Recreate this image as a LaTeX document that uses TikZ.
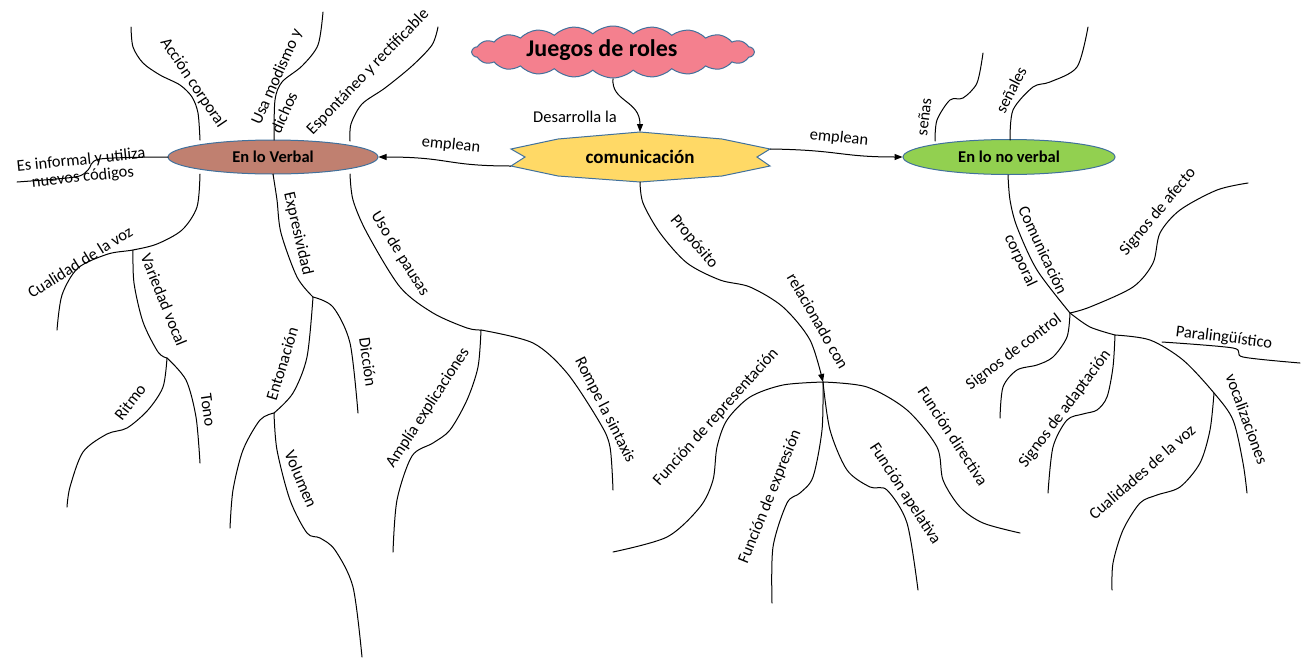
\documentclass[tikz,border=0pt]{standalone}
\usepackage{fontspec}
\setmainfont{Carlito}
\usetikzlibrary{arrows.meta,shapes.symbols,shapes.geometric}
\definecolor{verbalc}{RGB}{192,128,112}
\definecolor{noverbalc}{RGB}{146,208,80}
\definecolor{edgeblue}{RGB}{65,113,156}
\definecolor{cloudpink}{RGB}{244,128,142}
\definecolor{staryellow}{RGB}{255,217,102}
\begin{document}
\begin{tikzpicture}[x=1pt,y=-1pt,
  lbl/.style={font=\fontsize{16.5}{19}\selectfont, inner sep=0pt, align=center},
  br/.style={line width=1pt, line cap=round},
  arr/.style={line width=1pt, -{Triangle[length=8pt,width=6pt]}},
  ell/.style={ellipse, draw=edgeblue, line width=1pt, font=\fontsize{16.5}{19}\selectfont\bfseries, inner sep=0pt}
]
\useasboundingbox (0,0) rectangle (1301,659);

% ---------- central shapes ----------
\node[cloud, cloud puffs=22, cloud puff arc=85, aspect=5.5, draw=edgeblue, fill=cloudpink,
  line width=1pt, minimum width=282pt, minimum height=52pt, inner sep=0pt] (juegos) at (613,52) {};
\node[font=\fontsize{24}{28}\selectfont\bfseries, inner sep=0pt] (jtxt) at (602,50) {Juegos de roles};

\draw[draw=edgeblue, fill=staryellow, line width=1pt]
  (640,132) -- (722,139) -- (770,149) -- (757,157) -- (770,166) -- (722,176) -- (640,182)
  -- (558,176) -- (511,166) -- (525,157) -- (511,149) -- (558,139) -- cycle;
\node[font=\fontsize{19}{22}\selectfont\bfseries, inner sep=0pt] (com) at (640,157) {comunicación};
\coordinate (comT) at (640,132);
\coordinate (comB) at (640,182);
\coordinate (comL) at (511,166);
\coordinate (comR) at (770,149);

\node[ell, fill=verbalc, minimum width=210pt, minimum height=34pt] (verbal) at (273,157) {En lo Verbal};
\node[ell, fill=noverbalc, minimum width=212pt, minimum height=35pt] (noverbal) at (1009,157) {En lo no verbal};

% ---------- arrows ----------
\draw[arr] (juegos.south) .. controls (611,102) and (640,100) .. (comT);
\node[lbl] (ldes) at (575,117) {Desarrolla la};
\draw[arr] (comL) .. controls (445,166) and (450,157) .. (verbal.east);
\node[lbl, rotate=-6] (lemp1) at (451,145) {emplean};
\draw[arr] (comR) .. controls (840,150) and (840,157) .. (noverbal.west);
\node[lbl, rotate=-6] (lemp2) at (839,138) {emplean};

% ---------- branch points ----------
\coordinate (vA) at (200,140);
\coordinate (vB) at (274,140);
\coordinate (vC) at (350,141);
\coordinate (vD) at (168,157);
\coordinate (vE) at (200,174);
\coordinate (vI) at (273,174);
\coordinate (vN) at (350,174);
\coordinate (jCual) at (133,250);
\coordinate (jVar) at (167,358);
\coordinate (jExp) at (313,297);
\coordinate (jEnt) at (274,413);
\coordinate (jPau) at (481,330);
\coordinate (fn) at (823,382);
\coordinate (nA) at (935,141);
\coordinate (nB) at (1010,140);
\coordinate (nC) at (1008,175);
\coordinate (jCorp) at (1070,313);
\coordinate (jAd) at (1115,335);
\coordinate (jVoc) at (1214,393);

% ---------- left branches ----------
\draw[br] plot[smooth] coordinates {(vA) (198,113) (192,97) (180,85) (160,75) (143,63) (133,47) (131,27)};
\node[lbl, rotate=-56] (l1) at (193,83) {Acción corporal};

\draw[br] plot[smooth] coordinates {(vB) (275,100) (282,82) (302,66) (318,45) (323,12)};
\node[lbl, rotate=66, align=left, font=\fontsize{16.5}{22}\selectfont] (l2) at (286,81) {Usa modismo y\\dichos};

\draw[br] plot[smooth] coordinates {(vC) (351,124) (362,104) (385,88) (412,66) (432,45) (438,27)};
\node[lbl, rotate=46] (l3) at (368,72) {Espontáneo y rectificable};

\draw[br] plot[smooth] coordinates {(vD) (100,159) (88,170) (75,177) (17,182)};
\node[lbl, rotate=6, font=\fontsize{16.5}{17}\selectfont] (l4) at (82,169) {Es informal y utiliza\\nuevos códigos};

\draw[br] plot[smooth] coordinates {(vE) (197,207) (182,230) (157,244) (jCual) (108,254) (78,268) (62,295) (57,330)};
\node[lbl, rotate=32] (l5) at (80,262) {Cualidad de la voz};

\draw[br] plot[smooth] coordinates {(jCual) (134,283) (143,322) (158,352) (jVar)};
\node[lbl, rotate=-68] (l6) at (164,300) {Variedad vocal};

\draw[br] plot[smooth] coordinates {(jVar) (163,387) (148,410) (127,428) (107,434) (83,452) (70,487) (67,507)};
\node[lbl, rotate=52] (l7) at (130,402) {Ritmo};

\draw[br] plot[smooth] coordinates {(jVar) (186,380) (196,417) (200,463)};
\node[lbl, rotate=-82] (l8) at (208,410) {Tono};

\draw[br] plot[smooth] coordinates {(vI) (277,200) (281,233) (297,277) (jExp)};
\node[lbl, rotate=-77] (l9) at (298,234) {Expresividad};

\draw[br] plot[smooth] coordinates {(jExp) (333,307) (350,343) (358,413)};
\node[lbl, rotate=-82] (l10) at (368,362) {Dicción};

\draw[br] plot[smooth] coordinates {(jExp) (307,357) (293,393) (jEnt)};
\node[lbl, rotate=73] (l11) at (282,364) {Entonación};

\draw[br] plot[smooth] coordinates {(jEnt) (260,420) (243,450) (233,490) (230,528)};

\draw[br] plot[smooth] coordinates {(jEnt) (277,450) (290,500) (307,533) (320,538) (335,550) (353,587) (362,657)};
\node[lbl, rotate=-67] (l12) at (301,479) {Volumen};

\draw[br] plot[smooth] coordinates {(vN) (353,200) (367,233) (400,287) (433,313) (467,328) (jPau)};
\node[lbl, rotate=-58] (l13) at (400,254) {Uso de pausas};

\draw[br] plot[smooth] coordinates {(jPau) (478,367) (467,400) (450,430) (433,443) (412,456) (397,500) (393,552)};
\node[lbl, rotate=57] (l14) at (428,408) {Amplía explicaciones};

\draw[br] plot[smooth] coordinates {(jPau) (533,343) (567,373) (600,423) (610,447) (613,490)};
\node[lbl, rotate=-63] (l15) at (605,410) {Rompe la sintaxis};

% ---------- centre branches ----------
\draw[arr] plot[smooth] coordinates {(comB) (643,203) (660,233) (687,263) (720,280) (750,287) (783,307) (810,340) (fn)};
\node[lbl, rotate=-50] (l16) at (694,242) {Propósito};
\node[lbl, rotate=-60] (l17) at (818,321) {relacionado con};

\draw[br] plot[smooth] coordinates {(fn) (783,385) (750,397) (727,420) (717,447) (713,480) (700,507) (667,537) (613,552)};
\node[lbl, rotate=48] (l18) at (716,417) {Función de representación};

\draw[br] plot[smooth] coordinates {(fn) (867,387) (907,410) (937,447) (943,480) (960,507) (983,523) (1020,533)};
\node[lbl, rotate=-57] (l19) at (953,436) {Función directiva};

\draw[br] plot[smooth] coordinates {(fn) (822,430) (813,477) (800,493) (787,503) (773,547) (772,603)};
\node[lbl, rotate=68] (l20) at (770,497) {Función de expresión};

\draw[br] plot[smooth] coordinates {(fn) (830,430) (847,470) (870,487) (887,490) (907,523) (918,590)};
\node[lbl, rotate=-57] (l21) at (905,494) {Función apelativa};

% ---------- right branches ----------
\draw[br] plot[smooth] coordinates {(nA) (937,120) (950,100) (963,98) (977,83) (983,53)};
\node[lbl, rotate=83] (l22) at (924,117) {señas};

\draw[br] plot[smooth] coordinates {(nB) (1013,110) (1033,87) (1050,82) (1077,67) (1088,27)};
\node[lbl, rotate=63] (l23) at (1011,90) {señales};

\draw[br] plot[smooth] coordinates {(nC) (1010,200) (1017,227) (1037,270) (jCorp)};
\node[lbl, rotate=-65, font=\fontsize{16.5}{24}\selectfont] (l24) at (1031,256) {Comunicación\\corporal};

\draw[br] plot[smooth] coordinates {(jCorp) (1090,307) (1133,287) (1153,263) (1160,233) (1180,210) (1217,190) (1248,183)};
\node[lbl, rotate=50] (l25) at (1158,212) {Signos de afecto};

\draw[br] plot[smooth] coordinates {(jCorp) (1067,337) (1053,357) (1037,365) (1017,370) (1003,387) (1000,418)};
\node[lbl, rotate=37] (l26) at (1014,352) {Signos de control};

\draw[br] plot[smooth] coordinates {(jCorp) (1090,327) (jAd)};

\draw[br] plot[smooth] coordinates {(jAd) (1113,367) (1107,397) (1097,410) (1083,414) (1067,420) (1053,447) (1048,493)};
\node[lbl, rotate=53] (l27) at (1065,409) {Signos de adaptación};

\draw[br] plot[smooth] coordinates {(jAd) (1150,340) (1183,360) (jVoc) (1233,420) (1243,463) (1247,493)};
\node[lbl, rotate=-70] (l28) at (1247,419) {vocalizaciones};

\draw[br] plot[smooth] coordinates {(jVoc) (1210,430) (1200,463) (1180,487) (1157,495) (1140,503) (1123,530) (1113,563) (1112,590)};
\node[lbl, rotate=41] (l29) at (1142,472) {Cualidades de la voz};

\coordinate (pS) at (1162,342);
\draw[br] plot[smooth] coordinates {(pS) (1233,348) (1243,357) (1300,363)};
\node[lbl, rotate=-7] (l30) at (1224,338) {Paralingüístico};

\end{tikzpicture}
\end{document}
